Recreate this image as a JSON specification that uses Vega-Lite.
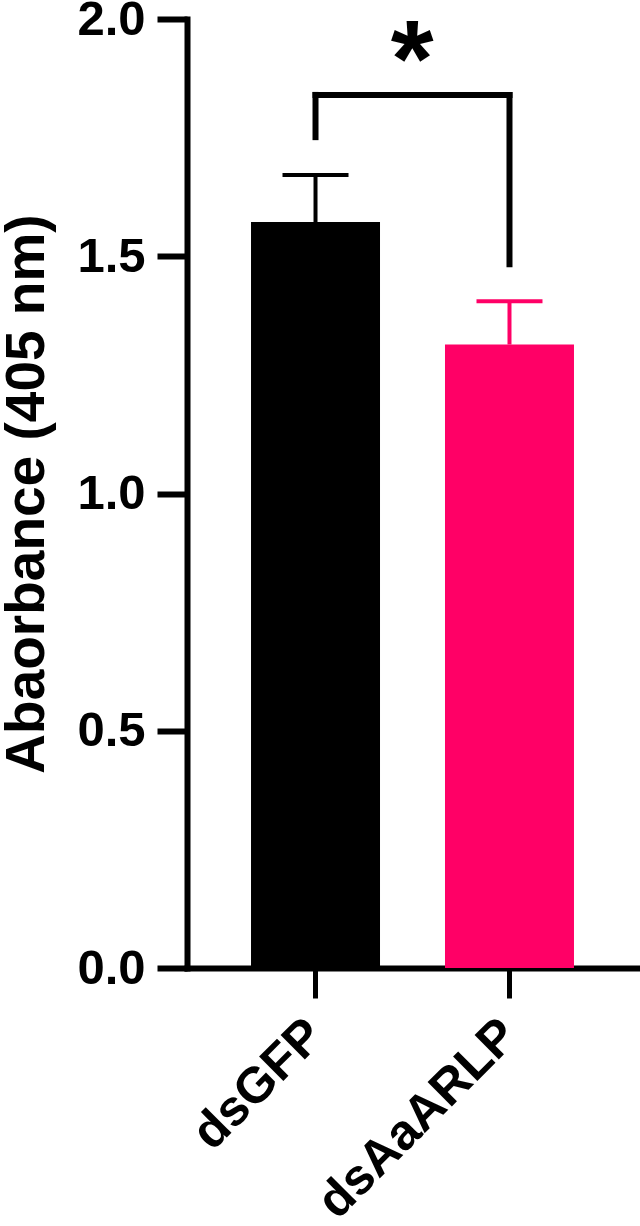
{
  "$schema": "https://vega.github.io/schema/vega-lite/v6.json",
  "autosize": {"type": "none"},
  "padding": {"left": 187, "top": 19, "right": 2, "bottom": 258},
  "width": 451,
  "height": 949,
  "background": "white",
  "config": {
    "view": {"stroke": null},
    "font": "Liberation Sans",
    "axis": {"grid": false, "domainColor": "black", "tickColor": "black", "labelColor": "black", "titleColor": "black"}
  },
  "datasets": {
    "bars": [
      {"group": "dsGFP", "mean": 1.572, "upper": 1.671},
      {"group": "dsAaARLP", "mean": 1.314, "upper": 1.405}
    ],
    "legs": [
      {"group": "dsGFP", "low": 1.751, "high": 1.84},
      {"group": "dsAaARLP", "low": 1.483, "high": 1.84}
    ],
    "span": [
      {"from": "dsGFP", "to": "dsAaARLP", "y": 1.84}
    ],
    "sig": [
      {"group": "dsGFP", "y": 1.907, "label": "*"}
    ]
  },
  "encoding": {
    "x": {
      "field": "group", "type": "nominal", "sort": ["dsGFP", "dsAaARLP"],
      "scale": {"domain": ["dsGFP", "dsAaARLP"], "paddingInner": 0.335, "paddingOuter": 0.33},
      "axis": {
        "title": null, "labelAngle": -45, "labelFontSize": 50, "labelFontWeight": "bold",
        "labelAlign": "right", "labelBaseline": "middle", "labelLimit": 0,
        "labelPadding": 29, "tickSize": 30, "tickWidth": 5, "domainWidth": 6, "domainCap": "square"
      }
    }
  },
  "layer": [
    {
      "data": {"name": "bars"},
      "mark": {"type": "bar"},
      "encoding": {
        "y": {
          "field": "mean", "type": "quantitative",
          "scale": {"domain": [0, 2], "nice": false},
          "axis": {
            "title": "Abaorbance (405 nm)", "titleFontSize": 55, "titleFontWeight": "bold", "titlePadding": 21,
            "values": [0, 0.5, 1, 1.5, 2], "format": ".1f",
            "labelFontSize": 49, "labelFontWeight": "bold", "labelPadding": 12,
            "tickSize": 30, "tickWidth": 6, "domainWidth": 6, "domainCap": "square"
          }
        },
        "color": {"field": "group", "type": "nominal", "scale": {"domain": ["dsGFP", "dsAaARLP"], "range": ["#000000", "#FF0066"]}, "legend": null}
      }
    },
    {
      "data": {"name": "bars"},
      "mark": {"type": "rule", "strokeWidth": 4, "opacity": 1},
      "encoding": {
        "y": {"field": "mean", "type": "quantitative"},
        "y2": {"field": "upper"},
        "color": {"field": "group", "type": "nominal", "legend": null}
      }
    },
    {
      "data": {"name": "bars"},
      "mark": {"type": "tick", "size": 66, "thickness": 4, "orient": "horizontal", "opacity": 1},
      "encoding": {
        "y": {"field": "upper", "type": "quantitative"},
        "color": {"field": "group", "type": "nominal", "legend": null}
      }
    },
    {
      "data": {"name": "legs"},
      "mark": {"type": "rule", "strokeWidth": 6, "color": "black", "strokeCap": "square"},
      "encoding": {
        "y": {"field": "low", "type": "quantitative"},
        "y2": {"field": "high"}
      }
    },
    {
      "data": {"name": "span"},
      "mark": {"type": "rule", "strokeWidth": 6, "color": "black", "strokeCap": "square"},
      "encoding": {
        "x": {"field": "from", "type": "nominal"},
        "x2": {"field": "to"},
        "y": {"field": "y", "type": "quantitative"}
      }
    },
    {
      "data": {"name": "sig"},
      "mark": {"type": "text", "fontSize": 110, "fontWeight": "bold", "color": "black", "baseline": "middle", "align": "center"},
      "encoding": {
        "x": {"field": "group", "type": "nominal", "bandPosition": 1.25},
        "y": {"field": "y", "type": "quantitative"},
        "text": {"field": "label"}
      }
    }
  ]
}
